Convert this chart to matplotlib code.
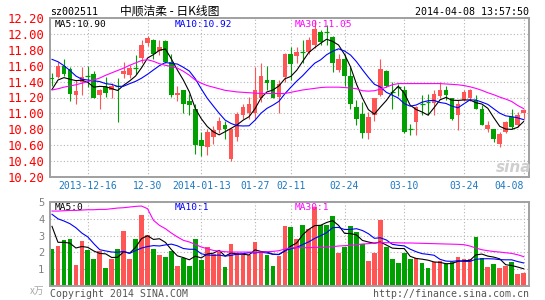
"""Sina daily K-line chart for sz002511 (price candles + volume)."""

import matplotlib

matplotlib.use("Agg")
import matplotlib.pyplot as plt
import pandas as pd
from matplotlib.patches import Rectangle

W, H = 545, 300

# trading days shown, one per candle (exchange holidays and one missing bar removed)
closed_days = ["2014-01-01", "2014-01-20", "2014-01-31", "2014-02-03",
               "2014-02-04", "2014-02-05", "2014-02-06", "2014-04-07"]
dates = pd.bdate_range("2013-12-06", "2014-04-08").drop(pd.to_datetime(closed_days))

open_ = [11.45, 11.46, 11.60, 11.56, 11.23, 11.40, 11.47, 11.49, 11.23, 11.33,
         11.30, 11.35, 11.49, 11.48, 11.58, 11.70, 11.88, 11.92, 11.78, 11.91,
         11.65, 11.23, 11.29, 11.15, 11.05, 10.67, 10.58, 10.70, 10.79, 10.86,
         10.43, 10.70, 10.98, 11.00, 11.01, 11.20, 11.42, 11.42, 11.21, 11.46,
         11.75, 11.72, 11.77, 11.77, 11.86, 12.03, 12.03, 11.96, 11.54, 11.69,
         11.47, 11.08, 10.99, 10.75, 10.985, 11.23, 11.53, 11.28, 11.34, 11.29,
         10.80, 10.89, 11.115, 11.14, 11.135, 11.22, 11.29, 11.19, 10.98, 11.165,
         11.19, 11.165, 11.06, 10.81, 10.81, 10.62, 10.77, 10.96, 10.85, 11.00]
high = [11.51, 11.65, 11.68, 11.58, 11.42, 11.58, 11.60, 11.53, 11.31, 11.46,
        11.38, 11.45, 11.65, 11.61, 11.74, 11.92, 11.97, 11.94, 11.92, 11.92,
        11.75, 11.35, 11.30, 11.24, 11.12, 10.77, 10.81, 10.84, 10.95, 10.91,
        10.82, 11.02, 11.12, 11.21, 11.58, 11.63, 11.60, 11.42, 11.42, 11.76,
        11.84, 11.84, 11.92, 11.96, 12.17, 12.05, 12.11, 11.97, 11.75, 11.75,
        11.58, 11.165, 11.14, 11.02, 11.19, 11.68, 11.54, 11.40, 11.37, 11.35,
        10.87, 11.09, 11.23, 11.24, 11.29, 11.39, 11.35, 11.19, 11.165, 11.29,
        11.31, 11.23, 11.10, 10.91, 10.81, 10.77, 10.91, 11.06, 11.02, 11.06]
low = [11.35, 11.45, 11.47, 11.15, 11.12, 11.23, 11.33, 11.19, 11.05, 11.21,
       11.20, 10.89, 11.44, 11.44, 11.50, 11.63, 11.85, 11.68, 11.74, 11.64,
       11.21, 11.16, 11.00, 10.98, 10.49, 10.47, 10.48, 10.62, 10.75, 10.68,
       10.40, 10.65, 10.93, 10.93, 10.93, 11.14, 11.29, 11.19, 11.00, 11.40,
       11.42, 11.63, 11.63, 11.75, 11.82, 11.86, 11.86, 11.52, 11.52, 11.35,
       11.06, 10.85, 10.69, 10.68, 10.91, 11.22, 11.33, 11.06, 11.22, 10.75,
       10.73, 10.73, 10.98, 10.98, 10.98, 11.19, 11.17, 10.92, 10.79, 11.15,
       11.15, 11.05, 10.85, 10.77, 10.64, 10.58, 10.75, 10.81, 10.83, 10.93]
close = [11.43, 11.60, 11.50, 11.25, 11.28, 11.46, 11.46, 11.20, 11.30, 11.26,
         11.34, 11.34, 11.53, 11.57, 11.57, 11.86, 11.95, 11.75, 11.84, 11.65,
         11.23, 11.26, 11.12, 11.10, 10.60, 10.59, 10.77, 10.79, 10.90, 10.80,
         10.80, 10.99, 11.08, 11.12, 11.30, 11.47, 11.38, 11.20, 11.375, 11.75,
         11.62, 11.77, 11.765, 11.92, 12.06, 11.90, 12.02, 11.63, 11.69, 11.47,
         11.12, 10.935, 10.75, 10.96, 11.19, 11.56, 11.35, 11.27, 11.33, 10.77,
         10.795, 11.08, 11.11, 11.135, 11.24, 11.29, 11.23, 10.935, 11.12, 11.27,
         11.29, 11.06, 10.85, 10.85, 10.68, 10.745, 10.89, 10.83, 10.98, 11.04]

# volume, in units of 10,000 lots (x万)
volume = [2.22, 2.36, 2.72, 2.78, 1.23, 2.66, 2.12, 1.63, 2.06, 1.09,
          1.59, 2.18, 3.27, 1.63, 2.82, 4.21, 3.02, 2.18, 1.83, 1.73,
          2.06, 1.17, 1.67, 1.17, 2.82, 1.53, 2.32, 1.92, 2.02, 1.11,
          2.48, 1.96, 1.87, 1.83, 2.62, 2.00, 1.83, 1.17, 1.79, 3.57,
          3.51, 2.78, 3.61, 3.37, 4.70, 3.61, 3.61, 4.17, 1.96, 2.32,
          3.55, 3.21, 2.52, 1.49, 1.96, 3.91, 2.32, 1.59, 1.37, 1.96,
          1.59, 1.69, 1.37, 1.07, 1.43, 1.47, 1.29, 1.43, 1.73, 1.59,
          1.59, 2.92, 1.67, 1.13, 1.29, 1.07, 1.17, 1.43, 0.69, 0.77]

# moving-average values before a full window is available
ma5_lead = [11.30, 11.42, 11.45, 11.43]
ma10_lead = [11.68, 11.65, 11.60, 11.54, 11.47, 11.43, 11.42, 11.41, 11.40]
vol_ma5_lead = [3.55, 2.60, 2.60, 2.55]
vol_ma10_lead = [4.27, 4.00, 3.87, 3.71, 3.47, 3.15, 2.92, 2.52, 2.16]

ma30 = [11.295, 11.31, 11.33, 11.345, 11.36, 11.38, 11.40, 11.42, 11.445, 11.48,
        11.51, 11.54, 11.57, 11.605, 11.635, 11.665, 11.675, 11.655, 11.625, 11.605,
        11.59, 11.57, 11.53, 11.48, 11.42, 11.38, 11.35, 11.33, 11.31, 11.29,
        11.28, 11.27, 11.265, 11.26, 11.255, 11.25, 11.25, 11.25, 11.25, 11.25,
        11.265, 11.28, 11.295, 11.305, 11.315, 11.325, 11.33, 11.33, 11.33, 11.325,
        11.32, 11.31, 11.285, 11.28, 11.285, 11.305, 11.33, 11.36, 11.375, 11.375,
        11.375, 11.375, 11.375, 11.375, 11.375, 11.375, 11.37, 11.365, 11.36, 11.35,
        11.335, 11.315, 11.29, 11.26, 11.235, 11.205, 11.18, 11.15, 11.10, 11.06]
vol_ma30 = [4.46, 4.46, 4.48, 4.50, 4.50, 4.52, 4.54, 4.54, 4.56, 4.56,
            4.60, 4.64, 4.66, 4.70, 4.74, 4.76, 4.60, 3.91, 3.61, 3.41,
            3.15, 2.92, 2.72, 2.62, 2.48, 2.32, 2.22, 2.12, 2.08, 2.04,
            2.02, 2.02, 2.02, 2.02, 2.02, 2.02, 2.04, 2.06, 2.10, 2.20,
            2.28, 2.28, 2.28, 2.28, 2.30, 2.30, 2.32, 2.34, 2.38, 2.40,
            2.42, 2.46, 2.50, 2.52, 2.56, 2.58, 2.58, 2.58, 2.57, 2.56,
            2.56, 2.55, 2.54, 2.53, 2.52, 2.51, 2.50, 2.49, 2.48, 2.46,
            2.38, 2.26, 2.16, 2.10, 2.05, 2.02, 1.98, 1.94, 1.86, 1.75]

tick_dates = ["2013-12-16", "2013-12-30", "2014-01-13", "2014-01-27", "2014-02-11",
              "2014-02-24", "2014-03-10", "2014-03-24", "2014-04-08"]
tick_text = ["2013-12-16", "12-30", "2014-01-13", "01-27", "02-11",
             "02-24", "03-10", "03-24", "04-08"]
price_ticks = [10.20, 10.40, 10.60, 10.80, 11.00, 11.20, 11.40, 11.60, 11.80, 12.00, 12.20]

RED = "#ff5555"
GREEN = "#00a000"
GRID = "#b4b4b4"
BORDER = "#a0a0a0"
MONO = "DejaVu Sans Mono"


def rolling_with_lead(values, window, lead):
    ma = pd.Series(values).rolling(window).mean()
    ma.iloc[: len(lead)] = lead
    return ma


def fx(px):
    return px / W


def fy(py):
    return 1 - py / H


ma5 = rolling_with_lead(close, 5, ma5_lead)
ma10 = rolling_with_lead(close, 10, ma10_lead)
vol_ma5 = rolling_with_lead(volume, 5, vol_ma5_lead)
vol_ma10 = rolling_with_lead(volume, 10, vol_ma10_lead)
tick_pos = [dates.get_loc(pd.Timestamp(d)) for d in tick_dates]
xs = range(len(dates))

fig = plt.figure(figsize=(W / 100, H / 100), dpi=100)
ax = fig.add_axes([fx(50), fy(177), fx(479), 159 / H])
axv = fig.add_axes([fx(50), fy(286), fx(479), 84 / H])

for a in (ax, axv):
    a.set_xlim(-0.335, 79.9)
    for sp in a.spines.values():
        sp.set_color(BORDER)
        sp.set_linewidth(1.4)
    a.set_xticks(tick_pos)
    a.grid(True, color=GRID, linestyle=(0, (1, 2)), linewidth=0.8)
    a.set_axisbelow(True)
    a.tick_params(length=0)

# candles
for i in xs:
    o, h, l, c = open_[i], high[i], low[i], close[i]
    col = RED if c >= o else GREEN
    ax.vlines(i, l, h, color=col, linewidth=0.8, zorder=2)
    bottom, top = min(o, c), max(o, c)
    if top - bottom < 0.012:
        ax.hlines((o + c) / 2, i - 0.4, i + 0.4, color=col, linewidth=0.9, zorder=3)
    else:
        ax.add_patch(Rectangle((i - 0.39, bottom), 0.78, top - bottom,
                               facecolor=col, edgecolor="none", zorder=3))

ax.plot(xs, ma5, color="black", linewidth=0.8, zorder=4)
ax.plot(xs, ma10, color="#0000ff", linewidth=0.8, zorder=4)
ax.plot(xs, ma30, color="#ff00ff", linewidth=0.8, zorder=4)

ax.set_ylim(10.20, 12.20)
ax.set_yticks(price_ticks)
ax.set_yticklabels([f"{v:.2f}" for v in price_ticks], color="red",
                   fontsize=8.8, family=MONO)
ax.tick_params(axis="y", pad=4)
ax.set_xticklabels(tick_text, color="#1a78c2", fontsize=7, family=MONO)
ax.tick_params(axis="x", pad=3)
ax.get_xticklabels()[-1].set_ha("right")

# volume bars
bar_colors = [RED if close[i] >= open_[i] else GREEN for i in xs]
axv.bar(xs, volume, width=0.78, color=bar_colors, zorder=2)
axv.plot(xs, vol_ma5, color="black", linewidth=0.8, zorder=4)
axv.plot(xs, vol_ma10, color="#0000ff", linewidth=0.8, zorder=4)
axv.plot(xs, vol_ma30, color="#ff00ff", linewidth=0.8, zorder=4)
axv.set_ylim(0, 5)
axv.set_yticks([1, 2, 3, 4, 5])
axv.set_yticklabels(["1", "2", "3", "4", "5"], color="#808080", fontsize=7.5, family=MONO)
axv.tick_params(axis="y", pad=4)
axv.set_xticklabels([])

# header and legends
fig.text(fx(50), fy(15), "sz002511", fontsize=7.2, family=MONO, color="black")
fig.text(fx(120), fy(15), "中顺洁柔 - 日K线图", fontsize=8.5,
         family=["Noto Sans CJK SC", "DejaVu Sans"], color="black")
fig.text(fx(529), fy(15), "2014-04-08 13:57:50", fontsize=7.2, family=MONO,
         color="black", ha="right")

for x0, label, col in [(55, "MA5:10.90", "black"), (175, "MA10:10.92", "#0000ff"),
                       (295, "MA30:11.05", "#ff00ff")]:
    fig.text(fx(x0), fy(27), label, fontsize=6.8, family=MONO, color=col)
for x0, label, col in [(55, "MA5:0", "black"), (175, "MA10:1", "#0000ff"),
                       (295, "MA30:1", "#ff00ff")]:
    fig.text(fx(x0), fy(210), label, fontsize=6.8, family=MONO, color=col)

fig.text(fx(30), fy(294), "x万", fontsize=7, style="italic", color="#a8a8a8",
         family=["Noto Sans CJK SC", "DejaVu Sans"])
fig.text(fx(50), fy(297), "Copyright 2014 SINA.COM", fontsize=7.1, family=MONO,
         color="#555555")
fig.text(fx(529), fy(297), "http://finance.sina.com.cn", fontsize=7.1, family=MONO,
         color="#555555", ha="right")
fig.text(fx(496), fy(172), "sina", fontsize=11, style="italic", weight="bold",
         color="#cfcfcf")

fig.savefig("out.png", dpi=100)
plt.close(fig)
